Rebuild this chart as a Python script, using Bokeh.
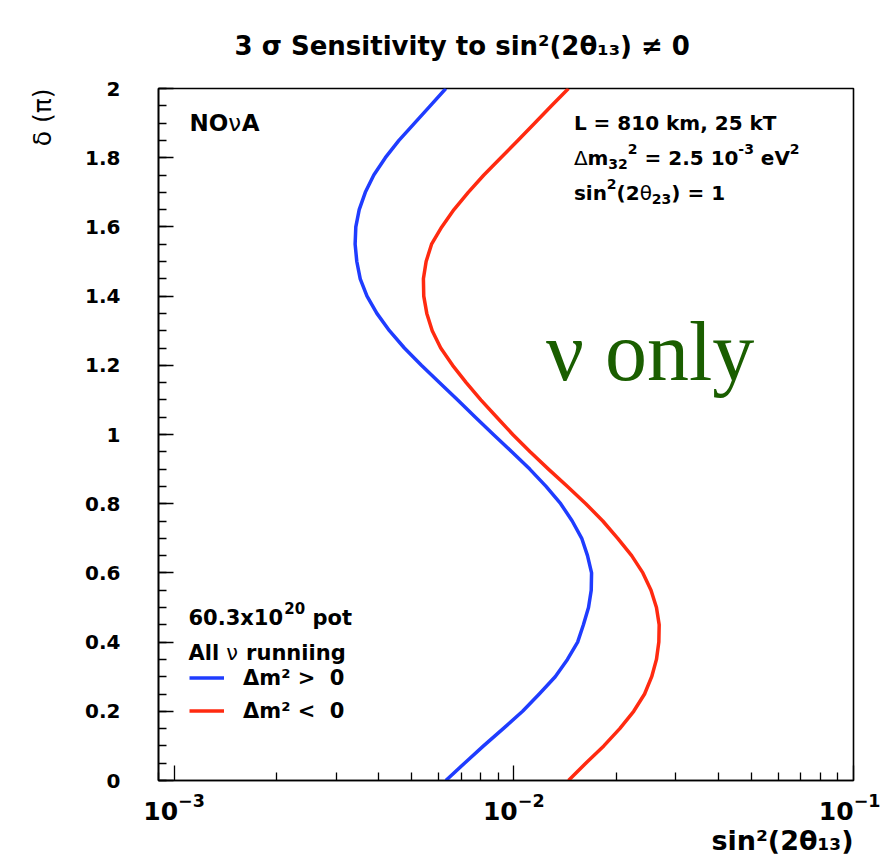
import math
from bokeh.plotting import figure
from bokeh.models import Label, FixedTicker, Legend, LegendItem, Range1d, Title
from bokeh.embed import file_html
from bokeh.resources import INLINE

# ---------------- data ----------------
# delta_CP in units of pi, sampled every 0.05
delta_nh = [0.0, 0.05, 0.1, 0.15, 0.2, 0.25, 0.3, 0.35, 0.4, 0.45, 0.5, 0.55,
            0.6, 0.65, 0.7, 0.75, 0.8, 0.85, 0.9, 0.95, 1.0, 1.05, 1.1, 1.15,
            1.2, 1.25, 1.3, 1.35, 1.4, 1.45, 1.5, 1.55, 1.6, 1.65, 1.7, 1.75,
            1.8, 1.85, 1.9, 1.95, 2.0]
# Delta m^2 > 0 (blue)
sin2_nh = [0.006310, 0.007161, 0.008147, 0.009311, 0.010617, 0.011885, 0.013243,
           0.014388, 0.015417, 0.016032, 0.016596, 0.016904, 0.016943, 0.016482,
           0.015849, 0.014859, 0.013740, 0.012445, 0.011143, 0.009863, 0.008710,
           0.007709, 0.006839, 0.006039, 0.005346, 0.004764, 0.004305, 0.003954,
           0.003698, 0.003532, 0.003451, 0.003412, 0.003428, 0.003508, 0.003656,
           0.003873, 0.004188, 0.004592, 0.005105, 0.005675, 0.006310]
delta_ih = delta_nh
# Delta m^2 < 0 (red)
sin2_ih = [0.014488, 0.016293, 0.018408, 0.020512, 0.022542, 0.024266, 0.025468,
           0.026303, 0.026730, 0.026792, 0.026303, 0.025351, 0.023988, 0.022233,
           0.020230, 0.018281, 0.016293, 0.014388, 0.012647, 0.011169, 0.009931,
           0.008913, 0.007998, 0.007244, 0.006607, 0.006095, 0.005754, 0.005546,
           0.005433, 0.005420, 0.005521, 0.005728, 0.006138, 0.006668, 0.007345,
           0.008166, 0.009162, 0.010280, 0.011535, 0.012912, 0.014488]

y_ticks = [0, 0.2, 0.4, 0.6, 0.8, 1, 1.2, 1.4, 1.6, 1.8, 2]
y_tick_labels = ["0", "0.2", "0.4", "0.6", "0.8", "1", "1.2", "1.4", "1.6", "1.8", "2"]
x_ticks = [0.001, 0.01, 0.1]
x_minor = [0.0009, 0.002, 0.003, 0.004, 0.005, 0.006, 0.007, 0.008, 0.009,
           0.02, 0.03, 0.04, 0.05, 0.06, 0.07, 0.08, 0.09]

title_text = "3 \u03c3 Sensitivity to sin\u00b2(2\u03b8\u2081\u2083) \u2260 0"
x_title = "sin\u00b2(2\u03b8\u2081\u2083)"
y_title = "\u03b4 (\u03c0)"

XMIN, XMAX = 0.0009, 0.1
BLUE = "#1f3cff"
RED = "#ff2a10"
GREEN = "#1a5e00"
NB = "\u00a0"

# ---------------- figure ----------------
W, H = 880, 858
FL, FR, FT, FB = 157, 853, 88, 780
p = figure(width=W, height=H, x_axis_type="log",
           x_range=Range1d(XMIN, XMAX), y_range=Range1d(0, 2),
           output_backend="svg", toolbar_location=None,
           min_border_left=FL, min_border_right=W - FR,
           min_border_top=FT, min_border_bottom=H - FB)
p.title.text = title_text
p.title.align = "left"
p.title.offset = 76
p.title.standoff = 55
p.title.text_font = "DejaVu Sans"
p.title.text_font_style = "bold"
p.title.text_font_size = "26px"
p.title.text_color = "black"

p.background_fill_color = "white"
p.border_fill_color = "white"
p.outline_line_color = "black"
p.outline_line_width = 1.6
p.xgrid.visible = False
p.ygrid.visible = False

for ax in (p.xaxis[0], p.yaxis[0]):
    ax.axis_line_color = "black"
    ax.axis_line_width = 1.6
    ax.major_tick_in = 15
    ax.major_tick_out = 0
    ax.minor_tick_in = 8
    ax.minor_tick_out = 0
    ax.major_tick_line_width = 1.3
    ax.minor_tick_line_width = 1.3
    ax.major_tick_line_color = "black"
    ax.minor_tick_line_color = "black"
    ax.major_label_text_font = "DejaVu Sans"
    ax.major_label_text_font_style = "bold"
    ax.major_label_text_color = "black"

p.yaxis.ticker = FixedTicker(ticks=y_ticks, minor_ticks=[i * 0.05 for i in range(41)])
p.yaxis.major_label_overrides = {t: l for t, l in zip(y_ticks, y_tick_labels)}
p.yaxis.major_label_text_font_size = "20px"
p.yaxis.major_label_standoff = 38

p.xaxis.ticker = FixedTicker(ticks=x_ticks, minor_ticks=x_minor)
p.xaxis.major_label_text_font_size = "25px"
p.xaxis.major_label_standoff = 12

xt = Title(text=x_title, align="right", standoff=0, text_font="DejaVu Sans",
           text_font_style="bold", text_font_size="27px", text_color="black")
p.add_layout(xt, "below")
yt = Title(text=y_title, align="right", standoff=51, text_font="DejaVu Sans",
           text_font_style="normal", text_font_size="25px", text_color="black")
p.add_layout(yt, "left")

# ---------------- curves ----------------
r_nh = p.line(sin2_nh, delta_nh, line_color=BLUE, line_width=3.5, line_join="round")
r_ih = p.line(sin2_ih, delta_ih, line_color=RED, line_width=3.5, line_join="round")

legend = Legend(items=[LegendItem(label="\u0394m\u00b2 >" + NB + NB + "0", renderers=[r_nh]),
                       LegendItem(label="\u0394m\u00b2 <" + NB + NB + "0", renderers=[r_ih])],
                location=(31, 53), orientation="vertical",
                glyph_width=35, glyph_height=33, label_height=33,
                spacing=0, padding=0, margin=0, label_standoff=19,
                border_line_color=None, background_fill_alpha=0,
                label_text_font="DejaVu Sans", label_text_font_style="bold",
                label_text_font_size="21px", label_text_color="black")
p.add_layout(legend)

# ---------------- rich text helpers (inside the frame) ----------------
BW = {' ': .348, '.': .381, ',': .381, '(': .458, ')': .458, '=': .838, '<': .838,
      '>': .838, '\u2260': .838, '-': .415, 'x': .712, 'A': .774, 'L': .637, 'N': .837,
      'O': .850, 'S': .720, 'T': .682, 'V': .774, 'e': .678, 'g': .716, 'i': .343,
      'k': .665, 'l': .343, 'm': 1.042, 'n': .712, 'o': .687, 'p': .716, 'r': .493,
      's': .595, 't': .478, 'u': .712, 'v': .652, 'y': .652}
RW = {'\u03c3': .634, '\u03b8': .612, '\u03bd': .592, '\u0394': .684, '\u03b4': .612,
      '\u03c0': .602, ' ': .318, '(': .390, ')': .390}

LX0, LX1 = math.log10(XMIN), math.log10(XMAX)


def dx(px):
    return 10 ** (LX0 + (px - FL) / (FR - FL) * (LX1 - LX0))


def dy(py):
    return (FB - py) / (FB - FT) * 2.0


def seg_width(text, size, style):
    tab = BW if style == "B" else RW
    tot = 0.0
    for c in text:
        if c.isdigit():
            tot += .696 if style == "B" else .636
        else:
            tot += tab.get(' ' if c == NB else c, .65)
    return tot * size


def rich(px, py, segs, color="black"):
    x = px
    for t, s, r, st in segs:
        t = t.replace(" ", NB)
        p.add_layout(Label(x=dx(x), y=dy(py - r), text=t,
                           text_font="DejaVu Sans", text_font_size=f"{s}px",
                           text_font_style="bold" if st == "B" else "normal",
                           text_color=color, text_align="left",
                           text_baseline="alphabetic"))
        x += seg_width(t, s, st)


rich(188, 122, [("NO", 23, 0, "B"), ("\u03bd", 23, 0, "R"), ("A", 23, 0, "B")])
rich(573, 122, [("L = 810 km, 25 kT", 20, 0, "B")])
rich(573, 157, [("\u0394", 20, 0, "R"), ("m", 20, 0, "B"), ("32", 14, -6, "B"),
                ("2", 14, 9, "B"), (" = 2.5 10", 20, 0, "B"), ("-3", 14, 9, "B"),
                (" eV", 20, 0, "B"), ("2", 14, 9, "B")])
rich(573, 192, [("sin", 20, 0, "B"), ("2", 14, 9, "B"), ("(2", 20, 0, "B"),
                ("\u03b8", 20, 0, "R"), ("23", 14, -6, "B"), (") = 1", 20, 0, "B")])

rich(187, 617, [("60.3x10", 21, 0, "B"), ("20", 15, 10, "B"), (" pot", 21, 0, "B")])
rich(187, 652, [("All ", 21, 0, "B"), ("\u03bd", 21, 0, "R"), (" runniing", 21, 0, "B")])

p.add_layout(Label(x=dx(545), y=dy(351), text="\u03bd" + NB + "only",
                   text_font="Liberation Serif", text_font_size="84px",
                   text_color=GREEN, text_align="left", text_baseline="alphabetic"))

open("out.html", "w").write(file_html(p, INLINE))
